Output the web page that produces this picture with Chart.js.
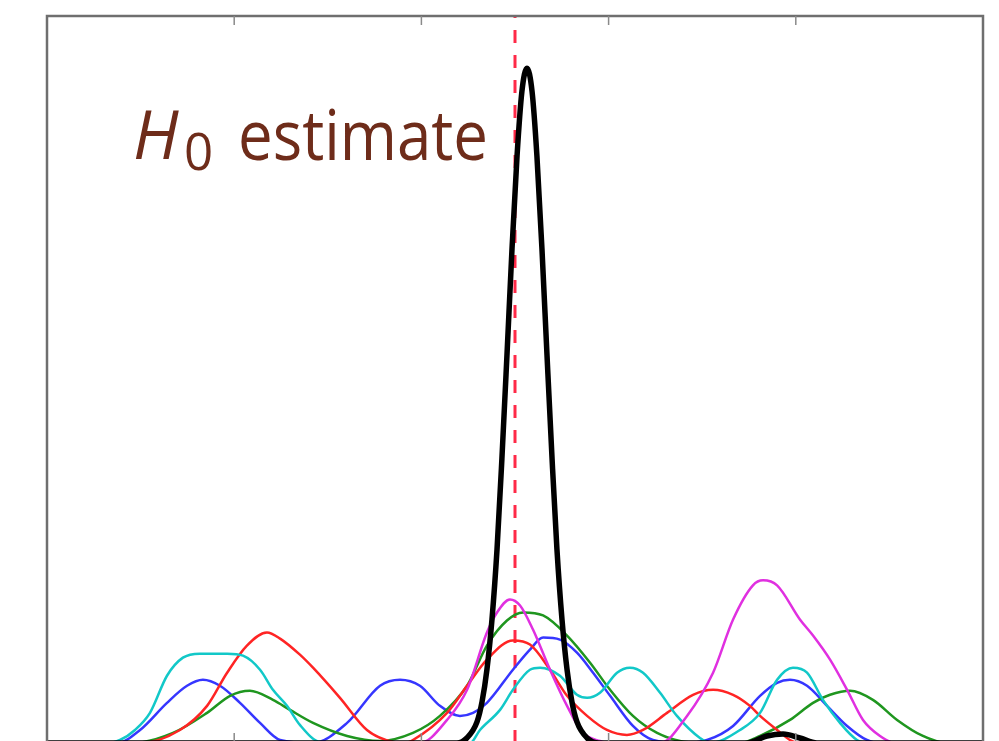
<!DOCTYPE html>
<html lang="en">
<head>
  <meta charset="UTF-8">
  <title>H0 estimate</title>
  <script src="https://cdn.jsdelivr.net/npm/chart.js"></script>
  <style>
    body {
      margin: 0;
      background: #fff;
      overflow: hidden;
    }
    #wrap {
      width: 999px;
      height: 741px;
      position: relative;
    }
  </style>
</head>
<body>
<div id="wrap">
  <canvas id="h0Chart"></canvas>
</div>

<script>
  // x axis goes 0..5, ticks at the integers inside the frame
  const xTicks = [1, 2, 3, 4];
  const trueValue = 2.5;

  // curves, [x, y]
  const blue = [[0,0],[0.374,0],[0.497,0.13],[0.641,0.40],[0.748,0.57],[0.833,0.63],[0.924,0.57],[1.031,0.40],
    [1.138,0.20],[1.245,0.03],[1.421,0],[1.603,0.20],[1.779,0.57],[1.886,0.63],[1.992,0.57],[2.099,0.37],
    [2.206,0.27],[2.276,0.30],[2.350,0.40],[2.489,0.73],[2.580,0.93],[2.650,1.05],[2.740,1.03],[2.831,0.90],
    [2.917,0.70],[3.008,0.47],[3.130,0.17],[3.237,0.03],[3.397,0],[3.526,0.03],[3.665,0.17],[3.809,0.47],
    [3.900,0.60],[3.969,0.63],[4.060,0.57],[4.167,0.37],[4.274,0.17],[4.380,0.03],[4.450,0],[5,0]];

  const green = [[0,0],[0.459,0],[0.673,0.10],[0.855,0.30],[0.978,0.47],[1.084,0.52],[1.207,0.43],[1.298,0.33],
    [1.421,0.20],[1.603,0.07],[1.779,0.02],[1.955,0.10],[2.099,0.27],[2.244,0.57],[2.350,0.97],[2.457,1.22],
    [2.543,1.30],[2.650,1.27],[2.778,1.07],[2.901,0.80],[3.008,0.53],[3.130,0.27],[3.259,0.10],[3.381,0.02],
    [3.526,0],[3.702,0],[3.809,0.07],[3.969,0.23],[4.092,0.40],[4.183,0.48],[4.290,0.52],[4.412,0.43],
    [4.541,0.23],[4.679,0.07],[4.808,0],[5,0]];

  const red = [[0,0],[0.497,0],[0.710,0.13],[0.855,0.37],[0.962,0.70],[1.068,0.97],[1.175,1.10],[1.245,1.04],
    [1.351,0.88],[1.421,0.75],[1.565,0.45],[1.709,0.13],[1.848,0.01],[1.912,0],[1.955,0.03],[2.137,0.30],
    [2.244,0.57],[2.350,0.83],[2.489,1.02],[2.580,0.98],[2.687,0.73],[2.778,0.47],[2.885,0.27],[2.991,0.13],
    [3.098,0.08],[3.184,0.13],[3.312,0.30],[3.451,0.48],[3.558,0.53],[3.665,0.48],[3.755,0.37],[3.809,0.27],
    [3.900,0.13],[3.969,0.03],[4.022,0],[5,0]];

  const cyan = [[0,0],[0.321,0],[0.390,0.03],[0.470,0.13],[0.550,0.30],[0.641,0.67],[0.726,0.85],[0.817,0.89],
    [0.962,0.89],[1.047,0.87],[1.138,0.73],[1.207,0.53],[1.282,0.37],[1.351,0.18],[1.458,0.01],[1.565,0],
    [2.260,0],[2.313,0.13],[2.420,0.33],[2.489,0.53],[2.580,0.73],[2.634,0.75],[2.740,0.67],[2.831,0.48],
    [2.885,0.45],[2.954,0.50],[3.045,0.70],[3.114,0.75],[3.184,0.70],[3.275,0.50],[3.365,0.27],[3.488,0.05],
    [3.542,0],[3.702,0.13],[3.809,0.30],[3.900,0.63],[3.985,0.75],[4.060,0.70],[4.145,0.43],[4.236,0.20],
    [4.327,0.03],[4.396,0],[5,0]];

  const magenta = [[0,0],[1.993,0],[2.137,0.23],[2.244,0.53],[2.350,1.10],[2.404,1.30],[2.473,1.43],[2.527,1.37],
    [2.596,1.13],[2.687,0.73],[2.778,0.37],[2.863,0.10],[2.954,0.02],[3.008,0],[3.275,0],[3.419,0.27],
    [3.558,0.70],[3.665,1.23],[3.771,1.57],[3.825,1.62],[3.900,1.57],[4.022,1.23],[4.092,1.07],[4.183,0.83],
    [4.274,0.53],[4.359,0.23],[4.450,0.07],[4.530,0],[5,0]];

  // combined estimate (thick black)
  const combined = [[0,0],[2.190,0],[2.243,0.05],[2.297,0.21],[2.324,0.41],[2.350,0.73],[2.377,1.23],[2.404,1.93],
    [2.430,2.83],[2.457,3.86],[2.484,4.92],[2.511,5.85],[2.537,6.49],[2.564,6.72],[2.591,6.49],[2.617,5.85],
    [2.644,4.92],[2.671,3.86],[2.698,2.83],[2.724,1.93],[2.751,1.23],[2.778,0.73],[2.804,0.41],[2.831,0.21],
    [2.885,0.05],[2.950,0],[3.739,0],[3.846,0.07],[3.932,0.09],[4.022,0.05],[4.113,0],[5,0]];

  const toPts = arr => arr.map(p => ({ x: p[0], y: p[1] }));

  function line(data, color, width) {
    return {
      data: toPts(data),
      borderColor: color,
      borderWidth: width,
      pointRadius: 0,
      showLine: true,
      fill: false,
      cubicInterpolationMode: 'monotone'
    };
  }

  // frame with inward ticks + the label
  const framePlugin = {
    id: 'frame',
    afterDraw(chart) {
      const ctx = chart.ctx;
      const a = chart.chartArea;
      const xs = chart.scales.x;
      ctx.save();
      ctx.strokeStyle = '#6f6f6f';
      ctx.lineWidth = 2.5;
      ctx.strokeRect(a.left, a.top, a.right - a.left, a.bottom - a.top + 4);
      ctx.lineWidth = 1.5;
      ctx.strokeStyle = '#8a8a8a';
      for (const t of xTicks) {
        const px = xs.getPixelForValue(t);
        ctx.beginPath();
        ctx.moveTo(px, a.top);
        ctx.lineTo(px, a.top + 9);
        ctx.moveTo(px, a.bottom);
        ctx.lineTo(px, a.bottom - 8);
        ctx.stroke();
      }

      // H_0 estimate
      ctx.fillStyle = '#6e2c1a';
      ctx.textBaseline = 'alphabetic';
      ctx.font = 'italic 67px "Open Sans"';
      ctx.fillText('H', 133, 159);
      ctx.font = '51px "Open Sans"';
      ctx.fillText('0', 184, 170);
      ctx.font = '70px "Open Sans"';
      const w = ctx.measureText('estimate').width;
      ctx.translate(238, 160);
      ctx.scale(250 / w, 1);
      ctx.fillText('estimate', 0, 0);
      ctx.restore();
    }
  };

  const ctx = document.getElementById('h0Chart').getContext('2d');
  new Chart(ctx, {
    type: 'scatter',
    data: {
      datasets: [
        line(combined, '#000000', 5.5),
        line(magenta, '#e030e0', 2.5),
        line(cyan, '#12c8c8', 2.5),
        line(red, '#ff2424', 2.5),
        line(green, '#1f961f', 2.5),
        line(blue, '#3636ff', 2.5),
        {
          data: [{ x: trueValue, y: 0 }, { x: trueValue, y: 7.24 }],
          borderColor: '#ff2a48',
          borderWidth: 3,
          borderDash: [13, 12],
          pointRadius: 0,
          showLine: true
        }
      ]
    },
    options: {
      responsive: true,
      maintainAspectRatio: false,
      animation: false,
      layout: { padding: { left: 47, top: 16, right: 16, bottom: 0 } },
      plugins: {
        legend: { display: false },
        tooltip: { enabled: false }
      },
      scales: {
        // zero sits a couple of pixels below the visible bottom, as in the picture
        x: { type: 'linear', min: 0, max: 5, display: false },
        y: { type: 'linear', min: 0.02, max: 7.24, display: false }
      }
    },
    plugins: [framePlugin]
  });
</script>
</body>
</html>
